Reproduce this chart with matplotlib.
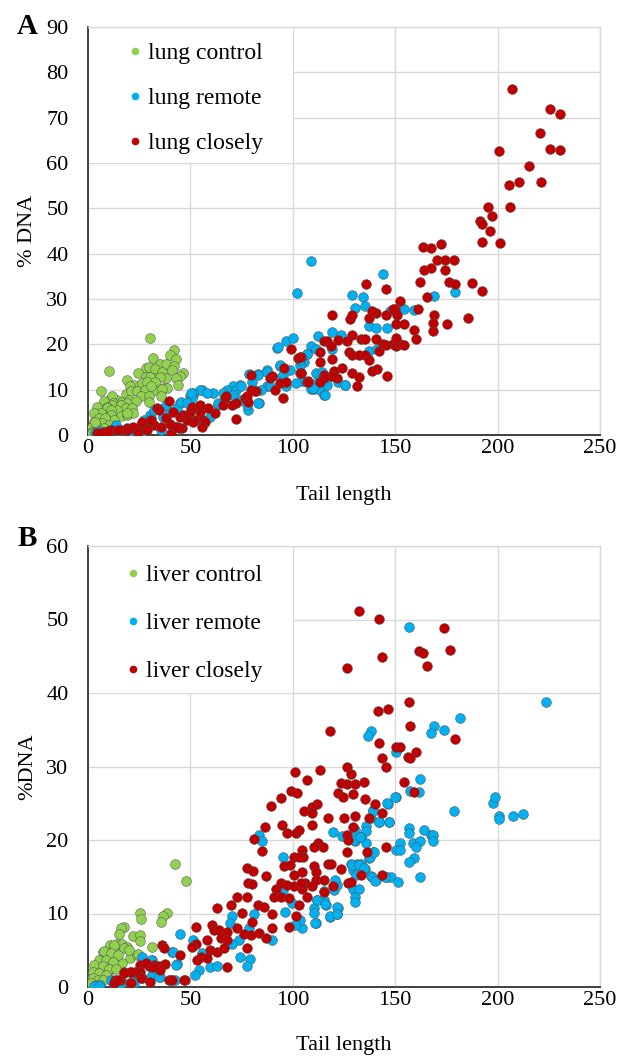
import numpy as np
import matplotlib
matplotlib.use('Agg')
import matplotlib.pyplot as plt
from matplotlib.lines import Line2D
from matplotlib.patches import Rectangle

plt.rcParams['font.family'] = ['Liberation Serif', 'DejaVu Serif']

# (tail length, % DNA)
lung_control = [
    (30.2, 21.3), (42.0, 18.8), (40.0, 17.6), (43.2, 16.7), (31.5, 17.0), (35.1, 15.6), (38.0, 15.6),
    (42.1, 15.3), (28.1, 14.7), (29.8, 15.1), (32.7, 14.5), (46.5, 13.6), (44.9, 13.0), (10.2, 14.1),
    (24.5, 13.6), (36.2, 14.0), (41.1, 14.3), (19.2, 12.1), (28.1, 12.9), (32.2, 12.5), (37.9, 12.5),
    (42.8, 12.5), (30.2, 12.9), (35.1, 12.9), (22.4, 11.0), (26.5, 11.4), (30.6, 11.0), (20.5, 10.8),
    (28.6, 11.8), (32.7, 11.8), (44.1, 11.0), (36.7, 10.3), (38.4, 10.3), (32.2, 9.9), (36.2, 10.1),
    (6.5, 9.6), (18.4, 9.0), (20.8, 9.6), (24.1, 9.6), (27.3, 9.2), (27.8, 9.9), (30.7, 10.7),
    (11.1, 8.1), (14.3, 7.7), (16.7, 7.3), (20.0, 7.7), (11.5, 8.5), (25.7, 8.5), (29.8, 8.5),
    (35.5, 8.5), (29.9, 7.2), (23.3, 7.4), (7.8, 7.4), (12.3, 7.0), (18.9, 7.0), (11.9, 6.6),
    (15.9, 6.6), (9.1, 6.2), (4.5, 6.2), (18.4, 5.9), (21.6, 5.9), (9.4, 5.9), (14.3, 5.5),
    (11.2, 5.5), (37.9, 6.4), (6.2, 4.8), (2.9, 4.8), (11.1, 4.4), (15.9, 4.2), (19.2, 4.4),
    (22.1, 4.8), (18.9, 4.9), (5.4, 3.7), (8.6, 3.5), (12.7, 3.3), (8.3, 3.7), (2.9, 2.9),
    (7.0, 2.6), (10.2, 2.2), (2.1, 1.8), (5.4, 1.5), (7.8, 1.5), (2.1, 0.7), (3.8, 0.2),
    (1.8, 0.4), (4.2, 0.7), (3.4, 2.9),
]
lung_remote = [
    (109.1, 38.4), (102.1, 31.3), (144.1, 35.5), (169.1, 30.7), (179.2, 31.5), (129.1, 30.9),
    (134.1, 30.4), (130.4, 28.1), (135.4, 28.4), (147.3, 27.3), (154.1, 27.8), (159.2, 27.5),
    (137.2, 24.1), (140.5, 23.5), (146.0, 23.5), (119.0, 22.7), (123.4, 22.1), (112.2, 21.8),
    (109.1, 19.6), (111.5, 19.0), (119.0, 19.0), (137.2, 18.5), (141.0, 19.0), (106.7, 17.9),
    (105.4, 16.2), (103.4, 15.5), (111.5, 13.6), (112.2, 11.9), (114.1, 13.9), (117.2, 12.8),
    (122.3, 11.7), (125.4, 11.1), (109.1, 10.2), (110.2, 10.2), (113.5, 9.9), (115.3, 8.8),
    (116.6, 11.1), (104.7, 11.9), (92.5, 19.3), (96.9, 20.7), (100.2, 21.5), (107.1, 17.8),
    (103.4, 16.5), (93.7, 15.2), (87.2, 14.3), (82.8, 13.5), (78.5, 13.5), (74.1, 11.0),
    (70.9, 10.7), (67.7, 9.9), (61.1, 9.2), (55.5, 9.9), (51.4, 8.8), (44.9, 7.0), (40.0, 5.1),
    (36.7, 4.0), (30.2, 4.4), (27.0, 1.8), (22.1, 0.4), (13.2, 1.8), (9.1, 0.7), (3.4, 0.4),
    (78.2, 5.5), (83.6, 7.0), (63.6, 6.6), (74.1, 7.7), (87.2, 10.7), (96.9, 10.7), (109.9, 10.3),
    (115.6, 8.8), (125.4, 11.0), (101.8, 11.4), (93.7, 12.5), (49.8, 8.5), (54.6, 9.9),
    (57.9, 9.2), (51.4, 9.2), (50.6, 8.1), (66.0, 9.2), (72.5, 9.9), (70.9, 8.8), (74.9, 10.7),
    (77.4, 6.6), (83.1, 7.0), (84.7, 9.9), (88.8, 10.7), (95.3, 13.2), (79.9, 11.8), (83.1, 13.2),
    (87.3, 14.0), (98.5, 14.3), (93.7, 15.4), (92.8, 19.5), (59.5, 4.0), (63.6, 7.0),
    (13.5, 2.2), (22.4, 1.1), (27.3, 3.3), (30.6, 3.7), (32.2, 5.5), (37.9, 6.6), (43.6, 5.9),
    (45.2, 7.3), (48.5, 7.0), (50.1, 9.2), (42.0, 1.8), (35.5, 1.1), (25.7, 0.3), (6.0, 0.8),
    (11.0, 1.1), (15.0, 0.8),
]
lung_closely = [
    (207.2, 76.3), (225.4, 71.9), (230.6, 70.8), (220.5, 66.6), (225.4, 63.1), (230.6, 62.8),
    (200.5, 62.6), (215.4, 59.4), (205.5, 55.2), (210.4, 55.7), (221.1, 55.7), (195.4, 50.3),
    (206.0, 50.3), (197.4, 48.3), (191.2, 47.2), (192.4, 46.5), (196.1, 44.9), (192.4, 42.6),
    (201.0, 42.4), (163.6, 41.5), (167.3, 41.2), (172.4, 42.1), (170.4, 38.6), (174.1, 38.6),
    (178.5, 38.6), (164.2, 36.3), (167.3, 36.9), (174.1, 36.3), (162.3, 33.8), (176.1, 33.8),
    (179.2, 33.2), (187.3, 33.5), (192.4, 31.8), (165.4, 30.4), (135.9, 33.2), (145.4, 32.1),
    (152.2, 29.6), (161.0, 27.8), (169.1, 26.4), (168.5, 24.7), (168.5, 22.9), (175.4, 24.4),
    (185.4, 25.8), (159.2, 23.2), (160.3, 21.2), (119.0, 26.4), (127.8, 25.5), (129.1, 26.4),
    (137.2, 25.8), (140.5, 27.0), (145.4, 26.4), (149.8, 27.8), (151.1, 26.4), (150.4, 24.4),
    (154.1, 24.4), (138.5, 27.3), (148.9, 27.8), (129.1, 22.1), (133.5, 21.2), (135.3, 21.2),
    (140.5, 21.2), (122.3, 21.0), (126.7, 20.7), (115.3, 20.7), (116.6, 20.7), (118.5, 19.6),
    (113.5, 18.2), (113.5, 16.2), (119.0, 16.7), (127.2, 18.2), (129.1, 17.6), (132.2, 17.6),
    (135.3, 17.6), (137.2, 16.5), (142.3, 18.5), (144.1, 20.1), (145.4, 19.9), (149.1, 20.1),
    (150.4, 19.6), (152.2, 20.1), (154.1, 19.9), (150.4, 21.5), (138.5, 14.2), (141.0, 14.5),
    (146.0, 13.1), (124.0, 14.8), (129.1, 13.6), (132.2, 12.8), (131.5, 10.8), (120.3, 14.2),
    (121.6, 12.5), (119.0, 13.1), (115.3, 13.3), (115.3, 12.5), (113.5, 11.7), (107.2, 11.9),
    (104.1, 13.6), (104.1, 17.1), (99.3, 18.9), (102.6, 16.9), (103.4, 17.3), (95.6, 14.7),
    (95.3, 8.1), (103.4, 13.6), (104.2, 13.6), (106.7, 11.8), (93.7, 11.4), (96.9, 11.8),
    (88.8, 12.5), (89.6, 13.1), (91.2, 9.9), (107.5, 11.8), (79.8, 13.2), (79.8, 9.9),
    (81.9, 9.6), (81.5, 9.6), (76.6, 8.1), (78.2, 7.3), (77.4, 8.5), (72.5, 7.0), (70.1, 6.6),
    (66.8, 8.1), (67.2, 8.5), (66.0, 6.6), (72.2, 3.5), (62.0, 4.8), (58.7, 5.9), (54.6, 5.1),
    (51.4, 5.9), (49.8, 5.1), (50.6, 6.2), (54.6, 6.6), (52.2, 3.3), (56.3, 3.3), (57.1, 2.9),
    (55.5, 1.8), (51.4, 2.9), (48.1, 3.3), (46.5, 4.4), (44.9, 4.0), (43.3, 1.8), (45.7, 1.5),
    (39.5, 7.6), (41.6, 5.1), (33.8, 5.9), (34.6, 5.5), (32.2, 2.2), (35.5, 1.8), (40.3, 0.4),
    (44.4, 1.5), (42.8, 1.8), (40.0, 2.4), (28.9, 1.8), (25.7, 2.2), (26.2, 2.9), (30.6, 3.3),
    (37.9, 3.7), (19.2, 1.5), (16.0, 1.1), (11.1, 1.1), (7.8, 0.7), (4.5, 0.5), (21.6, 1.5),
    (22.1, 1.8), (18.9, 1.1), (14.8, 1.1), (9.9, 0.9), (5.9, 0.5), (24.5, 0.4), (28.6, 1.1),
]

liver_control = [
    (42.4, 16.7), (47.8, 14.4), (25.4, 10.1), (25.9, 9.3), (38.7, 10.1), (36.8, 9.6), (35.7, 8.9),
    (17.8, 8.2), (16.0, 8.0), (15.3, 7.2), (22.2, 6.9), (25.4, 7.1), (25.4, 6.3), (31.1, 5.5),
    (10.8, 5.7), (14.0, 5.9), (16.5, 5.9), (18.9, 5.5), (12.4, 5.0), (7.5, 4.8), (9.9, 4.4),
    (20.5, 3.9), (23.8, 4.4), (5.9, 3.7), (9.1, 3.4), (14.0, 3.7), (16.5, 3.2), (3.4, 2.8),
    (7.5, 2.5), (10.8, 2.3), (2.6, 1.9), (5.9, 1.6), (1.8, 1.2), (4.2, 1.0), (8.3, 1.4),
    (1.1, 0.5), (12.9, 5.7), (17.8, 5.3), (20.2, 5.0), (24.3, 4.5), (7.6, 4.9), (11.2, 4.6),
    (14.5, 4.4), (5.5, 3.7), (8.8, 3.7), (12.0, 3.4), (3.1, 3.0), (7.1, 2.8), (10.4, 2.5),
    (13.7, 2.5), (2.2, 2.1), (5.5, 1.9), (8.8, 1.6), (2.2, 1.2), (4.7, 1.0), (7.1, 1.0),
    (1.5, 0.5), (3.9, 0.3),
]
liver_remote = [
    (156.6, 49.0), (223.8, 38.8), (181.7, 36.6), (169.0, 35.5), (173.6, 35.0), (167.4, 34.6),
    (138.4, 34.8), (136.6, 34.1), (150.4, 32.0), (162.3, 28.3), (157.3, 26.7), (161.7, 26.5),
    (150.4, 25.8), (146.5, 24.9), (139.2, 24.1), (138.4, 23.0), (142.3, 22.5), (147.2, 22.5),
    (135.5, 21.9), (135.5, 21.2), (130.4, 21.4), (119.6, 21.1), (124.0, 20.5), (133.3, 20.4),
    (130.4, 19.9), (135.5, 19.6), (156.6, 21.6), (156.6, 21.0), (164.1, 21.3), (167.4, 20.7),
    (168.7, 20.7), (168.7, 19.8), (152.2, 19.6), (158.6, 19.6), (162.3, 19.9), (160.4, 19.1),
    (150.3, 18.6), (152.2, 18.6), (159.2, 17.6), (156.6, 17.0), (139.0, 18.3), (137.4, 17.6),
    (128.3, 16.7), (131.5, 16.7), (133.5, 16.7), (135.3, 16.1), (129.6, 15.9), (130.7, 15.2),
    (138.4, 15.1), (140.5, 14.5), (145.9, 15.0), (147.8, 15.0), (151.6, 14.3), (162.3, 15.0),
    (129.6, 13.4), (132.3, 13.3), (130.2, 12.3), (130.2, 11.6), (120.1, 13.2), (121.8, 13.9),
    (122.1, 10.8), (121.8, 9.9), (118.1, 9.5), (115.2, 11.8), (116.0, 11.2), (112.0, 11.9),
    (110.3, 10.7), (111.5, 8.7), (104.6, 8.0), (178.8, 23.9), (197.6, 25.1), (198.8, 25.8),
    (200.5, 23.3), (200.5, 22.9), (207.3, 23.3), (212.4, 23.5), (83.3, 20.7), (84.9, 19.9),
    (95.2, 17.7), (70.3, 9.7), (69.4, 8.7), (80.9, 9.9), (78.4, 8.0), (73.5, 6.4), (74.3, 4.1),
    (79.2, 3.8), (77.6, 2.8), (45.0, 7.2), (51.5, 6.4), (55.6, 4.6), (59.6, 2.7), (62.9, 2.8),
    (54.0, 2.3), (52.3, 1.6), (43.3, 3.1), (40.9, 4.7), (31.1, 3.7), (35.2, 1.4), (26.3, 4.1),
    (23.8, 1.4), (22.2, 1.0), (15.6, 0.3), (12.4, 0.5), (5.9, 0.3), (3.4, 0.1), (42.5, 1.0),
    (31.9, 1.9), (70.3, 5.9), (89.8, 6.4), (96.3, 10.2), (103.7, 9.1), (101.2, 8.4), (111.0, 8.7),
    (110.2, 10.1), (111.8, 11.8), (115.9, 11.3), (121.6, 10.9), (118.3, 9.6), (121.6, 9.9),
    (115.1, 13.0), (120.8, 14.6), (95.0, 13.2), (99.8, 11.4), (129.0, 16.6), (132.2, 16.6),
    (134.6, 16.2), (138.7, 15.0), (140.3, 14.4), (145.2, 15.0), (129.7, 20.0), (133.0, 20.4),
    (137.9, 17.7), (139.5, 18.4), (142.0, 22.5), (139.0, 24.0), (146.8, 22.5), (146.0, 25.0),
    (150.1, 25.9), (30.8, 3.7), (30.8, 1.4), (34.9, 1.4), (40.6, 1.0), (41.4, 4.8), (43.0, 3.0),
    (11.2, 1.0), (16.1, 1.0), (3.1, 0.1), (5.5, 0.1), (22.6, 0.5),
]
liver_closely = [
    (132.2, 51.1), (142.3, 50.1), (173.6, 48.8), (176.8, 45.9), (161.5, 45.7), (163.5, 45.5),
    (165.4, 43.7), (143.4, 44.9), (126.6, 43.4), (156.6, 38.8), (141.6, 37.6), (146.7, 37.8),
    (157.3, 35.5), (118.3, 34.8), (179.1, 33.7), (142.3, 33.2), (150.4, 32.7), (152.1, 32.7),
    (160.4, 32.0), (156.3, 31.3), (157.2, 31.2), (143.4, 31.1), (145.4, 30.0), (126.6, 30.0),
    (128.4, 29.0), (113.4, 29.5), (107.1, 28.1), (123.4, 27.8), (126.6, 27.6), (130.2, 27.6),
    (134.6, 27.9), (154.2, 27.9), (159.2, 26.5), (122.1, 26.4), (124.7, 25.8), (129.6, 26.2),
    (135.3, 25.6), (140.3, 24.9), (112.0, 24.9), (109.5, 24.5), (105.4, 23.9), (109.5, 23.7),
    (143.4, 23.7), (117.2, 23.0), (125.2, 23.0), (130.2, 23.2), (137.2, 23.0), (109.5, 22.1),
    (129.6, 21.8), (126.6, 20.7), (127.1, 20.0), (112.1, 19.6), (114.6, 19.1), (110.2, 19.1),
    (104.6, 18.6), (126.6, 18.4), (136.4, 18.3), (145.4, 19.0), (105.1, 17.7), (110.3, 16.4),
    (117.2, 16.7), (118.5, 16.7), (111.3, 15.6), (123.4, 16.0), (104.6, 15.7), (133.2, 15.2),
    (143.4, 15.2), (106.1, 14.1), (111.3, 14.6), (115.2, 14.6), (109.5, 13.7), (104.6, 13.3),
    (107.1, 12.3), (115.2, 12.9), (119.6, 13.7), (127.1, 14.1), (128.4, 14.3),
    (101.2, 29.2), (99.3, 26.7), (102.0, 26.4), (94.4, 25.7), (89.4, 24.6), (86.2, 21.8),
    (94.7, 22.0), (97.2, 20.9), (101.7, 21.0), (103.2, 21.4), (81.2, 20.2), (84.9, 18.5),
    (100.4, 17.7), (102.8, 17.7), (95.8, 16.5), (98.8, 16.6), (77.6, 16.2), (80.8, 15.8),
    (86.7, 15.1), (100.4, 15.2), (78.0, 14.1), (80.0, 14.0), (91.9, 13.4), (94.0, 14.1),
    (97.3, 13.9), (100.5, 13.7), (103.8, 14.1), (90.8, 12.3), (94.0, 12.3), (98.1, 12.1),
    (103.0, 11.2), (72.9, 12.3), (77.8, 12.3), (69.6, 11.2), (83.1, 11.1), (85.9, 10.9),
    (63.1, 10.7), (75.0, 10.1), (80.2, 8.8), (90.0, 9.9), (101.4, 9.7), (98.1, 8.2), (52.5, 8.1),
    (60.6, 8.4), (61.4, 7.8), (63.9, 7.7), (68.0, 7.5), (72.9, 8.0), (76.1, 7.2), (79.4, 7.1),
    (83.4, 7.4), (86.7, 6.6), (90.0, 8.0), (58.2, 6.4), (64.7, 6.6), (68.0, 6.4), (77.8, 5.3),
    (52.5, 5.9), (50.9, 5.5), (59.8, 5.0), (63.1, 4.8), (66.3, 5.3), (36.2, 5.7), (37.3, 5.3),
    (45.1, 4.4), (53.3, 3.7), (55.3, 4.1), (58.2, 3.9), (68.0, 2.7), (29.6, 2.8), (32.1, 3.0),
    (34.9, 2.8), (37.8, 3.1), (25.2, 3.0), (25.6, 2.1), (35.4, 2.3), (17.4, 2.1), (20.7, 2.1),
    (23.1, 2.1), (26.4, 1.2), (30.5, 0.7), (39.4, 1.0), (47.6, 1.0), (13.3, 1.0), (15.8, 1.0),
    (20.7, 0.6), (12.5, 0.6), (28.4, 3.2), (21.0, 2.1), (17.8, 1.9), (14.5, 1.0), (25.9, 1.2),
    (21.0, 0.5), (31.6, 2.7), (40.9, 1.0), (47.1, 1.0),
]

lung_labels = ['lung control', 'lung remote', 'lung closely']
liver_labels = ['liver control', 'liver remote', 'liver closely']
colors = ['#92D050', '#00B0F0', '#C00000']

fig = plt.figure(figsize=(6.22, 10.61), dpi=100)
ax_a = fig.add_axes([88 / 622, 1 - 435 / 1061, 512 / 622, 408 / 1061])
ax_b = fig.add_axes([88 / 622, 1 - 987 / 1061, 512 / 622, 441 / 1061])


def draw(ax, series, labels, ymax, ylabel, leg_x, leg_top, spacing, xlab_y, box_bottom):
    ax.set_axisbelow(True)
    for pts, c in zip(series, colors):
        arr = np.array(pts)
        ax.scatter(arr[:, 0], arr[:, 1], s=50, color=c, edgecolors='#505050',
                   linewidths=0.35, zorder=3)
    ax.set_xlim(0, 250)
    ax.set_ylim(0, ymax)
    ax.set_xticks(np.arange(0, 251, 50))
    ax.set_yticks(np.arange(0, ymax + 1, 10))
    ax.grid(True, color='#D9D9D9', linewidth=1.0)
    ax.tick_params(axis='both', length=0, labelsize=16)
    ax.tick_params(axis='y', pad=14)
    ax.tick_params(axis='x', pad=3)
    for s in ['top', 'right']:
        ax.spines[s].set_color('#D9D9D9')
        ax.spines[s].set_linewidth(1.0)
    for s in ['left', 'bottom']:
        ax.spines[s].set_color('#404040')
        ax.spines[s].set_linewidth(1.4)
    ax.set_xlabel('Tail length', fontsize=16)
    ax.set_ylabel(ylabel, fontsize=16)
    ax.xaxis.set_label_coords(0.5, xlab_y)
    ax.yaxis.set_label_coords(-0.10, 0.5)
    ax.add_patch(Rectangle((0, box_bottom), 0.40, 1 - box_bottom, transform=ax.transAxes,
                           facecolor='white', edgecolor='none', zorder=1))
    handles = [Line2D([], [], marker='o', linestyle='none', markersize=5.5, color=c,
                      markeredgewidth=0) for c in colors]
    ax.legend(handles, labels, loc='upper left', bbox_to_anchor=(leg_x, leg_top),
              frameon=False, fontsize=17, borderpad=0, handlelength=0.6,
              handletextpad=0.25, labelspacing=spacing)


draw(ax_a, [lung_control, lung_remote, lung_closely], lung_labels, 90, '% DNA',
     0.055, 0.99, 0.99, -0.125, 0.667)
draw(ax_b, [liver_control, liver_remote, liver_closely], liver_labels, 60, '%DNA',
     0.051, 0.985, 1.12, -0.112, 0.667)

fig.text(27 / 622, 1 - 26 / 1061, 'A', fontsize=21, fontweight='bold', ha='center', va='center')
fig.text(27 / 622, 1 - 538 / 1061, 'B', fontsize=21, fontweight='bold', ha='center', va='center')

fig.savefig('out.png', dpi=100)
